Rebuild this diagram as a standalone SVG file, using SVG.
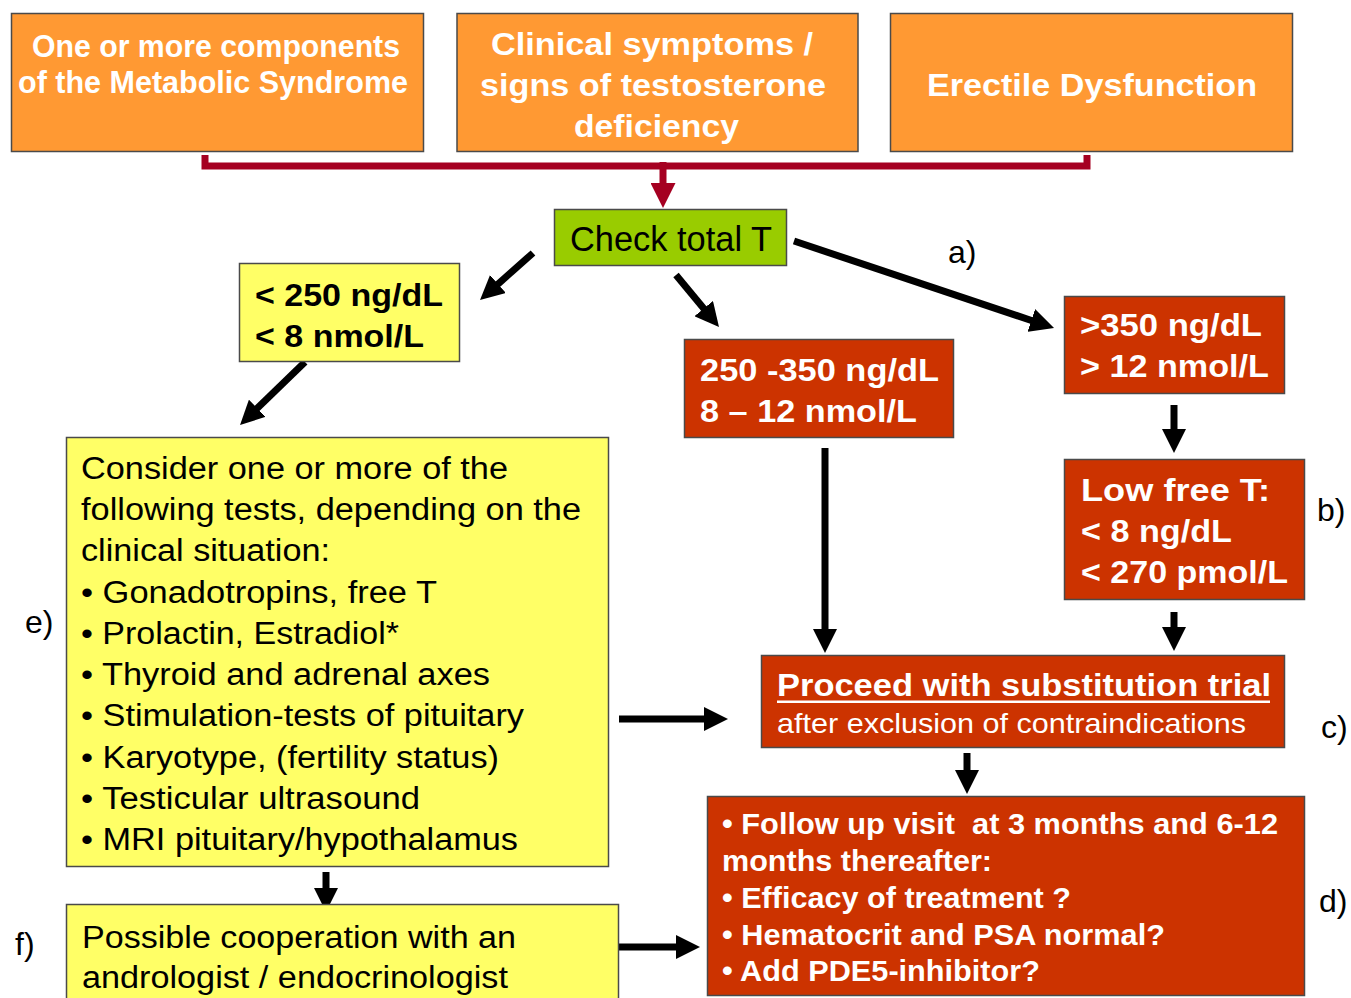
<svg xmlns="http://www.w3.org/2000/svg" width="1351" height="998" viewBox="0 0 1351 998">
<style>
.box{stroke:#4a4a4a;stroke-width:1.5}
.or{fill:#FF9933}
.rd{fill:#CC3300}
.ye{fill:#FFFF66}
.gr{fill:#99CC00}
text{font-family:"Liberation Sans",Arial,Helvetica,sans-serif}
.wb{fill:#fff;font-weight:bold}
.kb{fill:#000;font-weight:bold}
.k{fill:#000}
.w{fill:#fff}
.lbl{fill:#000;font-size:32px}
.arr{stroke:#000;stroke-width:7;fill:none;marker-end:url(#ah)}
</style>
<defs>
<marker id="ah" viewBox="0 0 10 10" refX="3" refY="5" markerWidth="24" markerHeight="24" markerUnits="userSpaceOnUse" orient="auto">
<path d="M0,0 L10,5 L0,10 z" fill="#000"/>
</marker>
<marker id="ahr" viewBox="0 0 10 10" refX="2" refY="5" markerWidth="25" markerHeight="25" markerUnits="userSpaceOnUse" orient="auto">
<path d="M0,0 L10,5 L0,10 z" fill="#A50021"/>
</marker>
</defs>
<rect width="1351" height="998" fill="#fff"/>

<g id="connectors">
<path d="M205,155 V166 H1087 V155" fill="none" stroke="#A50021" stroke-width="7"/>
<line x1="663" y1="162" x2="663" y2="188" stroke="#A50021" stroke-width="7" marker-end="url(#ahr)"/>
<line class="arr" x1="533" y1="253" x2="492.6" y2="288.8"/>
<line class="arr" x1="305" y1="362" x2="252.1" y2="413.3"/>
<line class="arr" x1="676" y1="275" x2="708.3" y2="314.1"/>
<line class="arr" x1="794" y1="241" x2="1038.1" y2="322.7"/>
<line class="arr" x1="825" y1="448" x2="825" y2="636.2"/>
<line class="arr" x1="1174" y1="405" x2="1174" y2="436.2"/>
<line class="arr" x1="1174" y1="612" x2="1174" y2="634.2"/>
<line class="arr" x1="967" y1="753" x2="967" y2="777.2"/>
<line class="arr" x1="619" y1="719" x2="711.2" y2="719"/>
<line class="arr" x1="326" y1="872" x2="326" y2="895.2"/>
<line class="arr" x1="619" y1="947" x2="683.2" y2="947"/>
</g>

<g id="n-metabolic">
<rect class="box or" x="11.5" y="13.5" width="412" height="138"/>
<text class="wb" font-size="31" x="32" y="57" textLength="368" lengthAdjust="spacingAndGlyphs">One or more components</text>
<text class="wb" font-size="31" x="18" y="93" textLength="390" lengthAdjust="spacingAndGlyphs">of the Metabolic Syndrome</text>
</g>

<g id="n-clinical">
<rect class="box or" x="457" y="13.5" width="401" height="138"/>
<text class="wb" font-size="32" x="491" y="55" textLength="322" lengthAdjust="spacingAndGlyphs">Clinical symptoms /</text>
<text class="wb" font-size="32" x="480" y="96" textLength="346" lengthAdjust="spacingAndGlyphs">signs of testosterone</text>
<text class="wb" font-size="32" x="574" y="137" textLength="165" lengthAdjust="spacingAndGlyphs">deficiency</text>
</g>

<g id="n-ed">
<rect class="box or" x="890.5" y="13.5" width="402" height="138"/>
<text class="wb" font-size="32" x="927" y="96" textLength="330" lengthAdjust="spacingAndGlyphs">Erectile Dysfunction</text>
</g>

<g id="n-check">
<rect class="box gr" x="554.5" y="209.5" width="232" height="56"/>
<text class="k" font-size="35" x="570" y="251" textLength="202" lengthAdjust="spacingAndGlyphs">Check total T</text>
</g>

<text class="lbl" x="948" y="263">a)</text>

<g id="n-low">
<rect class="box ye" x="239.5" y="263.5" width="220" height="98"/>
<text class="kb" font-size="31" x="255" y="306" textLength="188" lengthAdjust="spacingAndGlyphs">&lt; 250 ng/dL</text>
<text class="kb" font-size="31" x="255" y="347" textLength="169" lengthAdjust="spacingAndGlyphs">&lt; 8 nmol/L</text>
</g>

<g id="n-mid">
<rect class="box rd" x="684.5" y="339.5" width="269" height="98"/>
<text class="wb" font-size="31" x="700" y="381" textLength="239" lengthAdjust="spacingAndGlyphs">250 -350 ng/dL</text>
<text class="wb" font-size="31" x="700" y="422" textLength="217" lengthAdjust="spacingAndGlyphs">8 – 12 nmol/L</text>
</g>

<g id="n-high">
<rect class="box rd" x="1064.5" y="296.5" width="220" height="97"/>
<text class="wb" font-size="31" x="1080" y="336" textLength="182" lengthAdjust="spacingAndGlyphs">&gt;350 ng/dL</text>
<text class="wb" font-size="31" x="1080" y="377" textLength="189" lengthAdjust="spacingAndGlyphs">&gt; 12 nmol/L</text>
</g>

<g id="n-freet">
<rect class="box rd" x="1064.5" y="459.5" width="240" height="140"/>
<text class="wb" font-size="31" x="1081" y="501" textLength="189" lengthAdjust="spacingAndGlyphs">Low free T:</text>
<text class="wb" font-size="31" x="1081" y="542" textLength="151" lengthAdjust="spacingAndGlyphs">&lt; 8 ng/dL</text>
<text class="wb" font-size="31" x="1081" y="583" textLength="207" lengthAdjust="spacingAndGlyphs">&lt; 270 pmol/L</text>
</g>

<text class="lbl" x="1317" y="521">b)</text>

<g id="n-consider">
<rect class="box ye" x="66.5" y="437.5" width="542" height="429"/>
<text class="k" font-size="31" x="81" y="479" textLength="427" lengthAdjust="spacingAndGlyphs">Consider one or more of the</text>
<text class="k" font-size="31" x="81" y="520" textLength="500" lengthAdjust="spacingAndGlyphs">following tests, depending on the</text>
<text class="k" font-size="31" x="81" y="561" textLength="249" lengthAdjust="spacingAndGlyphs">clinical situation:</text>
<text class="k" font-size="31" x="81" y="603" textLength="356" lengthAdjust="spacingAndGlyphs">• Gonadotropins, free T</text>
<text class="k" font-size="31" x="81" y="644" textLength="318" lengthAdjust="spacingAndGlyphs">• Prolactin, Estradiol*</text>
<text class="k" font-size="31" x="81" y="685" textLength="409" lengthAdjust="spacingAndGlyphs">• Thyroid and adrenal axes</text>
<text class="k" font-size="31" x="81" y="726" textLength="443" lengthAdjust="spacingAndGlyphs">• Stimulation-tests of pituitary</text>
<text class="k" font-size="31" x="81" y="768" textLength="418" lengthAdjust="spacingAndGlyphs">• Karyotype, (fertility status)</text>
<text class="k" font-size="31" x="81" y="809" textLength="339" lengthAdjust="spacingAndGlyphs">• Testicular ultrasound</text>
<text class="k" font-size="31" x="81" y="850" textLength="437" lengthAdjust="spacingAndGlyphs">• MRI pituitary/hypothalamus</text>
</g>

<text class="lbl" x="25" y="633">e)</text>

<g id="n-proceed">
<rect class="box rd" x="761.5" y="655.5" width="523" height="92"/>
<text class="wb" font-size="32" x="777" y="696" textLength="494" lengthAdjust="spacingAndGlyphs">Proceed with substitution trial</text>
<rect x="777" y="700.5" width="493" height="2.5" fill="#fff"/>
<text class="w" font-size="28" x="777" y="733" textLength="469" lengthAdjust="spacingAndGlyphs">after exclusion of contraindications</text>
</g>

<text class="lbl" x="1321" y="738">c)</text>

<g id="n-followup">
<rect class="box rd" x="707.5" y="796.5" width="597" height="199"/>
<text class="wb" font-size="29" x="722" y="834" textLength="556" lengthAdjust="spacingAndGlyphs" xml:space="preserve">• Follow up visit  at 3 months and 6-12</text>
<text class="wb" font-size="29" x="722" y="871" textLength="270" lengthAdjust="spacingAndGlyphs">months thereafter:</text>
<text class="wb" font-size="29" x="722" y="908" textLength="349" lengthAdjust="spacingAndGlyphs">• Efficacy of treatment ?</text>
<text class="wb" font-size="29" x="722" y="945" textLength="443" lengthAdjust="spacingAndGlyphs">• Hematocrit and PSA normal?</text>
<text class="wb" font-size="29" x="722" y="981" textLength="318" lengthAdjust="spacingAndGlyphs">• Add PDE5-inhibitor?</text>
</g>

<text class="lbl" x="1319" y="912">d)</text>

<g id="n-cooperation">
<rect class="box ye" x="66.5" y="904.5" width="552" height="110"/>
<text class="k" font-size="31" x="82" y="948" textLength="434" lengthAdjust="spacingAndGlyphs">Possible cooperation with an</text>
<text class="k" font-size="31" x="82" y="988" textLength="426" lengthAdjust="spacingAndGlyphs">andrologist / endocrinologist</text>
</g>

<text class="lbl" x="15" y="955">f)</text>
</svg>
